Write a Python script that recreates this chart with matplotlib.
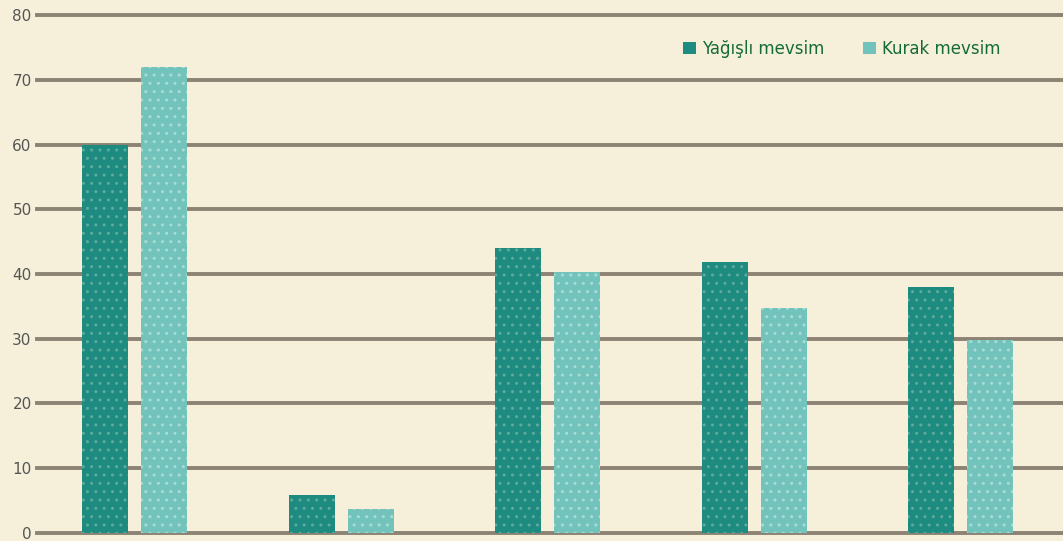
import matplotlib.pyplot as plt
import numpy as np
from matplotlib.patches import Patch

# values (5 unnamed groups)
groups = ["1", "2", "3", "4", "5"]
yagisli = [60, 5.8, 44, 41.8, 38]
kurak = [72, 3.7, 40.3, 34.7, 29.8]
series_names = ["Yağışlı mevsim", "Kurak mevsim"]
y_ticks = [0, 10, 20, 30, 40, 50, 60, 70, 80]

BG = "#f6f0da"
DARK = "#1d8b80"
LIGHT = "#72c3bc"
GRID = "#8c8374"

plt.rcParams["hatch.linewidth"] = 1.0

fig = plt.figure(figsize=(10.63, 5.41), dpi=100, facecolor=BG)
ax = fig.add_axes([0.035, 0.015, 0.965, 0.957])
ax.set_facecolor(BG)

x = np.arange(len(groups))
w = 0.223
off = 0.143
ax.bar(x - off, yagisli, w, color=DARK, edgecolor="#5fa99f", linewidth=0, hatch="..", zorder=2)
ax.bar(x + off, kurak, w, color=LIGHT, edgecolor="#a9dcd5", linewidth=0, hatch="..", zorder=2)

ax.set_xlim(-0.472, 4.496)
ax.set_ylim(0, 80)
ax.set_yticks(y_ticks)
ax.set_yticklabels([str(t) for t in y_ticks], fontsize=11, color="#555555")
ax.tick_params(axis="y", length=0, pad=4)
ax.set_xticks([])
for t in y_ticks:
    ax.axhline(t, color=GRID, lw=2.8, zorder=1, clip_on=False)
for s in ax.spines.values():
    s.set_visible(False)

handles = [Patch(facecolor=DARK, edgecolor="none"), Patch(facecolor=LIGHT, edgecolor="none")]
leg = ax.legend(handles, series_names, loc="center right", bbox_to_anchor=(0.954, 0.935),
                ncol=2, frameon=False, handlelength=0.75, handleheight=0.75,
                handletextpad=0.4, columnspacing=2.3,
                prop={"family": "DejaVu Sans", "size": 12})
for t in leg.get_texts():
    t.set_color("#146c35")

fig.savefig("out.png", dpi=100, facecolor=BG)
